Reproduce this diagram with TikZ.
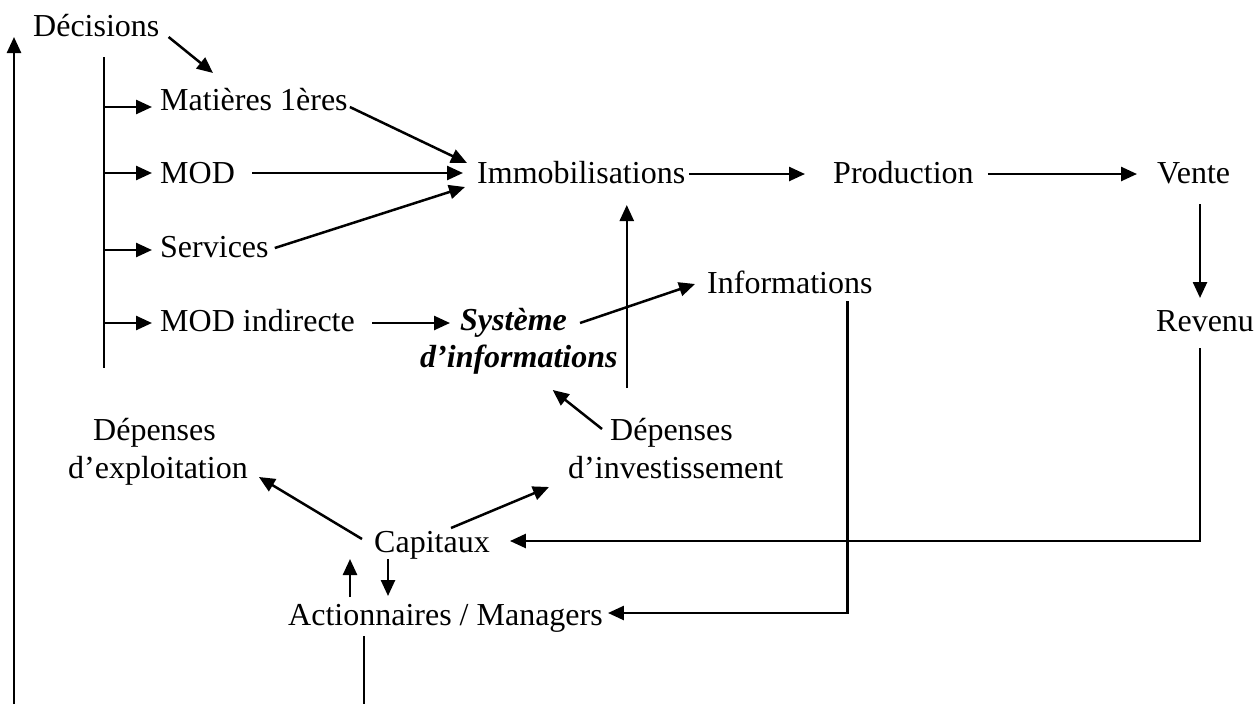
\documentclass[tikz,border=0pt]{standalone}
\usepackage{fontspec}
\setmainfont{Liberation Serif}
\usetikzlibrary{arrows.meta,calc}
\begin{document}
\begin{tikzpicture}[x=1pt,y=-1pt,
  lbl/.style={inner sep=0pt, anchor=base west, font=\fontsize{32}{37}\selectfont},
  emph/.style={lbl, font=\fontsize{32}{37}\selectfont\bfseries\itshape},
  arr/.style={line width=2.5pt, -{Triangle[length=16pt,width=14pt]}},
  ln/.style={line width=1.8pt},
]
\useasboundingbox (0,0) rectangle (1260,704);
\coordinate (floor) at (0,704);

% labels
\node[lbl] (dec)   at (33,36)   {Décisions};
\node[lbl] (mat)   at (160,110) {Matières 1ères};
\node[lbl] (mod)   at (160,183) {MOD};
\node[lbl] (serv)  at (160,257) {Services};
\node[lbl] (modi)  at (160,331) {MOD indirecte};
\node[lbl] (imm)   at (477,183) {Immobilisations};
\node[lbl] (prod)  at (833,183) {Production};
\node[lbl] (vente) at (1157,183) {Vente};
\node[lbl] (info)  at (707,293) {Informations};
\node[lbl] (rev)   at (1156,331) {Revenu};
\node[emph] (sysa) at (460,330) {Système};
\node[emph] (sysb) at (420,367) {d’informations};
\node[lbl] (depia) at (610,440) {Dépenses};
\node[lbl] (depib) at (568,478) {d’investissement};
\node[lbl] (depea) at (93,440)  {Dépenses};
\node[lbl] (depeb) at (68,478)  {d’exploitation};
\node[lbl] (cap)   at (374,552) {Capitaux};
\node[lbl] (act)   at (288,625) {Actionnaires / Managers};

% decisions feed the resources
\draw[arr] ($(dec.base east)+(9,1)$) -- ($(mat.base west)+(53,-37)$);
\coordinate (bt) at (104,57);
\coordinate (bb) at (104,368);
\draw[ln] (bt) -- (bb);
\foreach \n/\dy in {mat/-3,mod/-10,serv/-7,modi/-8}{
  \coordinate (t) at ($(\n.base west)+(-8,\dy)$);
  \draw[arr] (bt |- t) -- (t);
}

% resources into fixed assets
\draw[arr] ($(mat.base east)+(2,-3)$)   -- ($(imm.base west)+(-10,-20)$);
\draw[arr] ($(mod.base east)+(17,-10)$) -- ($(imm.base west)+(-14,-10)$);
\draw[arr] ($(serv.base east)+(6,-9)$)  -- ($(imm.base west)+(-12,4)$);

% production chain
\draw[arr] ($(imm.base east)+(4,-9)$)   -- ($(prod.base west)+(-28,-9)$);
\draw[arr] ($(prod.base east)+(14,-9)$) -- ($(vente.base west)+(-20,-9)$);
\coordinate (vs) at ($(vente.base west)+(43,21)$);
\coordinate (rt) at ($(rev.base west)+(44,-33)$);
\draw[arr] (vs) -- (vs |- rt);

% revenue back to capital
\coordinate (rb) at ($(rev.base west)+(44,17)$);
\coordinate (ct) at ($(cap.base east)+(20,-11)$);
\draw[arr] (rb) |- (ct);

% information to shareholders
\coordinate (is) at ($(info.base east)+(-25,8)$);
\coordinate (at) at ($(act.base east)+(5,-12)$);
\draw[arr] (is) |- (at);

% information system
\draw[arr] ($(modi.base east)+(17,-8)$) -- ($(sysa.base west)+(-10,-7)$);
\draw[arr] ($(sysa.base east)+(13,-7)$) -- ($(info.base west)+(-12,-9)$);
\coordinate (ds) at ($(sysb.base east)+(9,21)$);
\coordinate (it) at ($(imm.base west)+(149,22)$);
\draw[arr] (ds) -- (ds |- it);
\draw[arr] ($(depia.base west)+(-8,-11)$) -- ($(sysb.base east)+(-65,23)$);

% capital spending
\draw[arr] ($(cap.base west)+(-12,-13)$) -- ($(depeb.base east)+(11,-1)$);
\draw[arr] ($(cap.base west)+(77,-24)$)  -- ($(depib.base west)+(-19,9)$);

% capital <-> shareholders
\coordinate (ua) at ($(act.base west)+(62,-28)$);
\coordinate (ub) at ($(cap.base west)+(0,7)$);
\draw[arr] (ua) -- (ua |- ub);
\coordinate (da) at ($(cap.base west)+(14,7)$);
\coordinate (db) at ($(act.base west)+(0,-29)$);
\draw[arr] (da) -- (da |- db);

% feedback loop to decisions
\coordinate (as) at ($(act.base west)+(76,11)$);
\draw[ln] (as) -- (as |- floor);
\coordinate (dt) at ($(dec.base west)+(-19,1)$);
\draw[arr] (dt |- floor) -- (dt);
\end{tikzpicture}
\end{document}
